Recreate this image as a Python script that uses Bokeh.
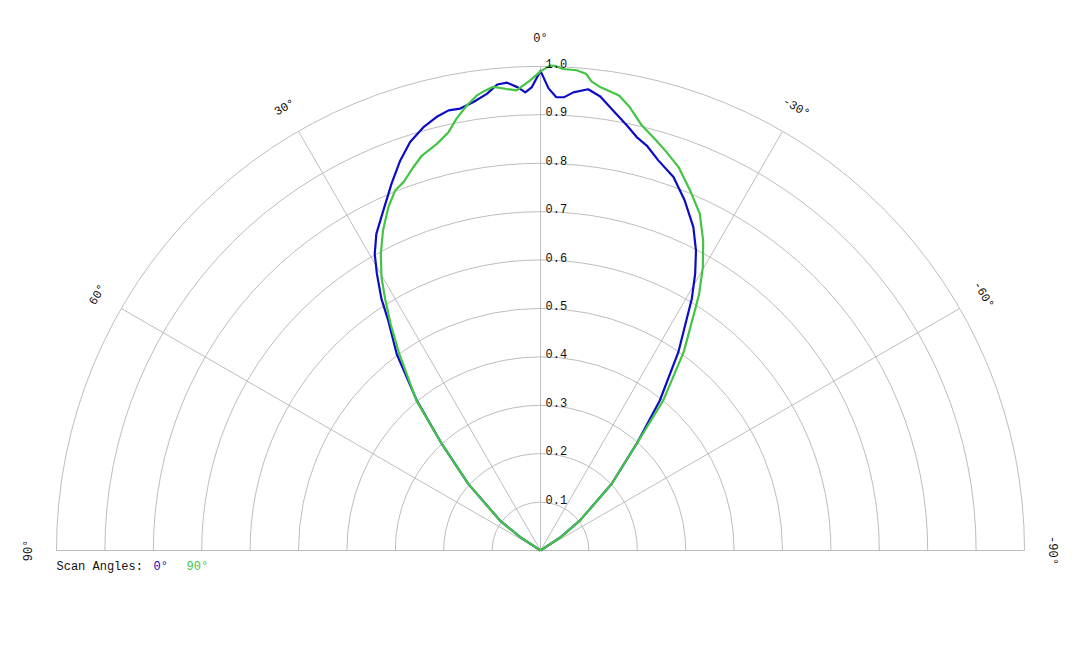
import numpy as np
from bokeh.plotting import figure
from bokeh.core.properties import value
from bokeh.embed import file_html
from bokeh.resources import INLINE

# ---------------- data ----------------
ring_values = [0.1, 0.2, 0.3, 0.4, 0.5, 0.6, 0.7, 0.8, 0.9, 1.0]
ring_labels = ["0.1", "0.2", "0.3", "0.4", "0.5", "0.6", "0.7", "0.8", "0.9", "1.0"]
spoke_angles = [90, 60, 30, 0, -30, -60, -90]
spoke_labels = ["90°", "60°", "30°", "0°", "-30°", "-60°", "-90°"]

# scan angle 0° (blue): polar angle in degrees (positive = left), relative intensity
scan0_angle = [60, 56.5, 53.5, 47.3, 42.8, 39.5, 36.2, 33.5, 32.3, 30.6, 29.2, 27.4,
               24.8, 22.1, 19.8, 17.7, 15.5, 13.5, 11.8, 10.3, 8.5, 6.7, 5.3, 4.1,
               2.8, 1.9, 1.1, 0, -1.0, -2.0, -3.0, -4.1, -5.9, -7.5, -9.4, -11.5,
               -13.1, -14.7, -16.8, -19.6, -22.4, -25.3, -27.4, -29.2, -31.0, -34.8,
               -38.5, -42.0, -46.9, -52.8, -56.5, -60]
scan0_r = [0.0, 0.05, 0.104, 0.203, 0.300, 0.402, 0.503, 0.570, 0.615, 0.664, 0.702, 0.737,
           0.774, 0.818, 0.856, 0.886, 0.907, 0.921, 0.929, 0.928, 0.937, 0.950, 0.967, 0.969,
           0.958, 0.947, 0.957, 0.991, 0.955, 0.937, 0.938, 0.949, 0.958, 0.946, 0.921, 0.896,
           0.877, 0.865, 0.842, 0.819, 0.782, 0.739, 0.698, 0.655, 0.607, 0.499,
           0.396, 0.297, 0.201, 0.102, 0.05, 0.0]

# scan angle 90° (green)
scan90_angle = [60, 56.5, 53.5, 47.3, 42.8, 39.6, 35.7, 33.5, 31.7, 30.2, 28.3, 26.2,
                23.9, 22.0, 20.4, 18.4, 16.7, 14.3, 12.4, 11.0, 9.4, 8.0, 6.9, 5.8,
                4.2, 3.0, 1.3, 0, -1.1, -1.7, -2.7, -4.3, -5.5, -6.2, -7.4, -9.8,
                -11.4, -13.4, -15.8, -17.6, -19.8, -22.6, -25.3, -27.7, -29.8, -31.7,
                -32.3, -35.8, -39.3, -42.0, -46.9, -52.8, -56.5, -60]
scan90_r = [0.0, 0.05, 0.104, 0.203, 0.300, 0.402, 0.500, 0.561, 0.611, 0.653, 0.696, 0.737,
            0.776, 0.802, 0.812, 0.834, 0.852, 0.867, 0.885, 0.909, 0.932, 0.949, 0.957, 0.963,
            0.956, 0.952, 0.971, 0.990, 1.002, 1.002, 0.996, 0.995, 0.989, 0.975, 0.965, 0.954,
            0.934, 0.903, 0.880, 0.863, 0.842, 0.805, 0.770, 0.723, 0.675, 0.624,
            0.604, 0.506, 0.400, 0.297, 0.201, 0.102, 0.05, 0.0]

legend_title = "Scan Angles:"
legend_labels = ["0°", "90°"]

# ---------------- style ----------------
BLUE = "#0c0cc4"
GREEN = "#44c444"
GRID = "#bdbdbd"
FONT = value("Liberation Mono")
PX = 484.0  # pixels per unit radius

W, H = 1064, 632
cx, cy = 540.0, 550.0  # centre in canvas pixels (from top-left)

p = figure(width=W, height=H, output_backend="svg", toolbar_location=None,
           x_range=(-cx / PX, (W - cx) / PX), y_range=(-(H - cy) / PX, cy / PX),
           x_axis_location=None, y_axis_location=None, min_border=0,
           background_fill_color="white", border_fill_color="white")
p.outline_line_color = None
p.grid.visible = False


def to_xy(ang_deg, r):
    a = np.radians(np.asarray(ang_deg, dtype=float))
    r = np.asarray(r, dtype=float)
    return -r * np.sin(a), r * np.cos(a)


# rings
p.arc(x=[0] * len(ring_values), y=[0] * len(ring_values), radius=ring_values,
      start_angle=0, end_angle=np.pi, line_color=GRID, line_width=1)

# spokes
sx, sy = to_xy(spoke_angles, [1.0] * len(spoke_angles))
p.segment(x0=[0] * len(sx), y0=[0] * len(sy), x1=sx, y1=sy, line_color=GRID, line_width=1)

# curves
x0, y0 = to_xy(scan0_angle, scan0_r)
p.line(x0, y0, line_color=BLUE, line_width=2.2, line_join="round")
x9, y9 = to_xy(scan90_angle, scan90_r)
p.line(x9, y9, line_color=GREEN, line_width=2.2, line_join="round")

# radial labels
p.text(x=[5 / PX] * len(ring_values), y=[v + 3 / PX for v in ring_values], text=ring_labels,
       text_font=FONT, text_font_size="12px", text_color="#111111",
       text_align="left", text_baseline="alphabetic")

# angle labels
lx, ly = to_xy(spoke_angles, [1.056] * len(spoke_angles))
p.text(x=lx, y=ly, text=spoke_labels, angle=np.radians(spoke_angles),
       text_font=FONT, text_font_size="12px", text_color="#111111",
       text_align="center", text_baseline="middle")

# legend
ly_leg = -16 / PX
p.text(x=[(56 - 540) / PX], y=[ly_leg], text=[legend_title], text_font=FONT,
       text_font_size="12px", text_color="#111111", text_align="left", text_baseline="alphabetic")
p.text(x=[(153 - 540) / PX], y=[ly_leg], text=[legend_labels[0]], text_font=FONT,
       text_font_size="12px", text_color=BLUE, text_align="left", text_baseline="alphabetic")
p.text(x=[(186 - 540) / PX], y=[ly_leg], text=[legend_labels[1]], text_font=FONT,
       text_font_size="12px", text_color=GREEN, text_align="left", text_baseline="alphabetic")

open("out.html", "w").write(file_html(p, INLINE))
